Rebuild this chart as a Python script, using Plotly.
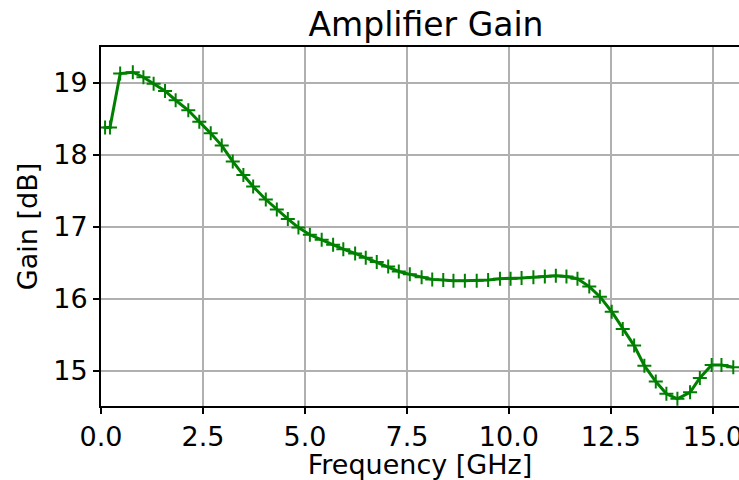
import plotly.graph_objects as go

freq_ghz = [0.10, 0.22, 0.47, 0.78, 1.04, 1.29, 1.57, 1.83, 2.14, 2.41, 2.69, 2.96,
            3.23, 3.49, 3.73, 4.04, 4.31, 4.58, 4.84, 5.12, 5.41, 5.69, 5.94, 6.23,
            6.49, 6.76, 7.04, 7.30, 7.57, 7.86, 8.12, 8.39, 8.64, 8.92, 9.21, 9.49,
            9.78, 10.04, 10.31, 10.60, 10.88, 11.15, 11.41, 11.68, 11.97, 12.23, 12.52,
            12.79, 13.07, 13.32, 13.60, 13.86, 14.13, 14.44, 14.68, 14.97, 15.21, 15.50]
gain_db = [18.38, 18.38, 19.13, 19.15, 19.08, 18.99, 18.89, 18.76, 18.62, 18.46, 18.30, 18.13,
           17.91, 17.72, 17.56, 17.38, 17.24, 17.11, 16.99, 16.89, 16.82, 16.75, 16.69, 16.63,
           16.57, 16.51, 16.45, 16.38, 16.34, 16.30, 16.27, 16.26, 16.25, 16.25, 16.25, 16.26,
           16.28, 16.28, 16.29, 16.30, 16.31, 16.32, 16.31, 16.28, 16.17, 16.03, 15.82,
           15.58, 15.35, 15.07, 14.85, 14.68, 14.61, 14.70, 14.90, 15.08, 15.08, 15.05]

x_ticks = [0.0, 2.5, 5.0, 7.5, 10.0, 12.5, 15.0]
y_ticks = [15, 16, 17, 18, 19]

FONT = "DejaVu Sans"

fig = go.Figure()
fig.add_trace(go.Scatter(
    x=freq_ghz, y=gain_db, mode="lines+markers",
    line=dict(color="#008000", width=3),
    marker=dict(symbol="cross-thin", size=10, line=dict(color="#008000", width=2)),
    showlegend=False,
))

fig.update_layout(
    width=739, height=480,
    margin=dict(l=101, r=0, t=47, b=74),
    paper_bgcolor="white", plot_bgcolor="white",
    font=dict(family=FONT, size=27, color="black"),
    title=dict(text="Amplifier Gain", x=426 / 739, xanchor="center", xref="container",
               y=1 - 24 / 480, yanchor="middle", yref="container",
               font=dict(family=FONT, size=33, color="black")),
)
fig.update_xaxes(
    range=[0, 15.64], tickvals=x_ticks, ticktext=[f"{v:.1f}" for v in x_ticks],
    automargin=False, ticklabeloverflow="allow",
    showgrid=True, gridcolor="#b0b0b0", gridwidth=1.5, zeroline=False,
    showline=True, linecolor="black", linewidth=2, mirror=True,
    ticks="outside", ticklen=6, tickwidth=2, tickcolor="black",
    title=dict(text="Frequency [GHz]", standoff=4, font=dict(family=FONT, size=27)),
    tickfont=dict(family=FONT, size=27),
)
fig.update_yaxes(
    range=[14.51, 19.5], tickvals=y_ticks,
    automargin=False,
    showgrid=True, gridcolor="#b0b0b0", gridwidth=1.5, zeroline=False,
    showline=True, linecolor="black", linewidth=2, mirror=False,
    ticks="outside", ticklen=6, tickwidth=2, tickcolor="black",
    title=dict(text="Gain [dB]", standoff=8, font=dict(family=FONT, size=27)),
    tickfont=dict(family=FONT, size=27),
)

# remove the page's default body margin so the figure sits at the window's corner
fig.write_html(
    "out.html",
    config={"displayModeBar": False},
    post_script="document.body.style.margin='0';document.body.style.overflow='hidden';",
)
